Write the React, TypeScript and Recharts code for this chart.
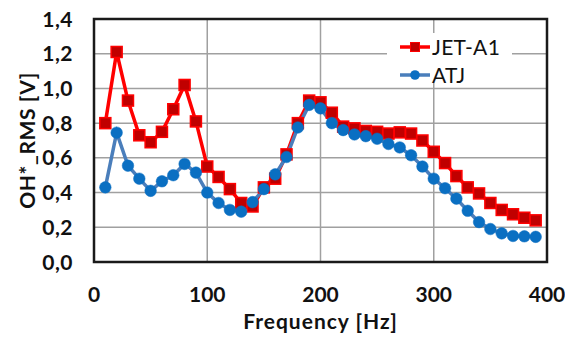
import React from 'react';
import { LineChart, Line, XAxis, YAxis, CartesianGrid, ReferenceArea, Legend } from 'recharts';

const frequency = [10, 20, 30, 40, 50, 60, 70, 80, 90, 100, 110, 120, 130, 140, 150, 160, 170, 180, 190, 200, 210, 220, 230, 240, 250, 260, 270, 280, 290, 300, 310, 320, 330, 340, 350, 360, 370, 380, 390];
const jetA1 = [0.80, 1.21, 0.93, 0.73, 0.69, 0.75, 0.88, 1.02, 0.81, 0.55, 0.49, 0.42, 0.34, 0.32, 0.43, 0.48, 0.62, 0.80, 0.93, 0.92, 0.86, 0.78, 0.77, 0.755, 0.75, 0.74, 0.747, 0.74, 0.70, 0.635, 0.57, 0.495, 0.43, 0.395, 0.34, 0.30, 0.275, 0.255, 0.24];
const atj = [0.43, 0.745, 0.555, 0.48, 0.41, 0.465, 0.50, 0.565, 0.515, 0.40, 0.34, 0.30, 0.29, 0.345, 0.42, 0.505, 0.605, 0.775, 0.905, 0.885, 0.80, 0.76, 0.735, 0.725, 0.71, 0.68, 0.66, 0.615, 0.55, 0.48, 0.425, 0.365, 0.295, 0.23, 0.19, 0.165, 0.15, 0.148, 0.145];

const xTicks = [0, 100, 200, 300, 400];
const yTicks = [0, 0.2, 0.4, 0.6, 0.8, 1.0, 1.2, 1.4];
const xMinorTicks = [20, 40, 60, 80, 100, 120, 140, 160, 180, 200, 220, 240, 260, 280, 300, 320, 340, 360, 380];
const yMinorTicks = [0.04, 0.08, 0.12, 0.16, 0.24, 0.28, 0.32, 0.36, 0.44, 0.48, 0.52, 0.56, 0.64, 0.68, 0.72, 0.76, 0.84, 0.88, 0.92, 0.96, 1.04, 1.08, 1.12, 1.16, 1.24, 1.28, 1.32, 1.36];

const seriesNames = ['JET-A1', 'ATJ'];

const data = frequency.map((f, i) => ({ f, jet: jetA1[i], atj: atj[i] }));

const FONT = "Lato, 'Liberation Sans', Arial, sans-serif";
const RED = '#ff0000';
const RED_FILL = '#c00000';
const BLUE = '#4a7ebb';
const BLUE_FILL = '#0a6fc2';

const XTick = (props: any) => {
  const { x, y, payload } = props;
  return (
    <text x={x} y={y + 40} textAnchor="middle" fontFamily={FONT} fontWeight={700} fontSize={21} fill="#111">
      {String(payload.value)}
    </text>
  );
};

const YTick = (props: any) => {
  const { x, y, payload } = props;
  return (
    <text x={x - 21} y={y + 7.5} textAnchor="end" fontFamily={FONT} fontWeight={700} fontSize={21} letterSpacing={0.5} fill="#111">
      {Number(payload.value).toFixed(1).replace('.', ',')}
    </text>
  );
};

const YTitle = (props: any) => {
  const vb = props.viewBox || { x: 0, y: 19, width: 94, height: 243 };
  const cx = vb.x + 26;
  const cy = vb.y + vb.height / 2;
  return (
    <text x={cx} y={cy} transform={`rotate(-90 ${cx} ${cy})`} textAnchor="middle" dominantBaseline="central" fontFamily={FONT} fontWeight={700} fontSize={21} letterSpacing={0.6} fill="#111">
      OH*_RMS [V]
    </text>
  );
};

const XTitle = (props: any) => {
  const vb = props.viewBox || { x: 94, y: 262, width: 453, height: 81 };
  return (
    <text x={vb.x + vb.width / 2} y={vb.y + 67} textAnchor="middle" fontFamily={FONT} fontWeight={700} fontSize={21} letterSpacing={1} fill="#111">
      Frequency [Hz]
    </text>
  );
};

const SquareDot = (props: any) => {
  const { cx, cy, index } = props;
  if (cx == null || cy == null) return <g key={`s${index}`} />;
  return <rect key={`s${index}`} x={cx - 5.5} y={cy - 5.5} width={11} height={11} fill={RED_FILL} stroke={RED} strokeWidth={1.5} />;
};

const CircleDot = (props: any) => {
  const { cx, cy, index } = props;
  if (cx == null || cy == null) return <g key={`c${index}`} />;
  return <circle key={`c${index}`} cx={cx} cy={cy} r={5.8} fill={BLUE_FILL} stroke={BLUE_FILL} strokeWidth={0.5} />;
};

const LegendContent = () => {
  const rows = [
    { name: seriesNames[0], top: 0, color: RED, marker: 'square' },
    { name: seriesNames[1], top: 28, color: BLUE, marker: 'circle' },
  ];
  return (
    <div style={{ position: 'relative', width: 125, height: 49, background: '#fff' }}>
      {rows.map((r) => (
        <div key={r.name} style={{ position: 'absolute', left: 13, top: r.top, height: 28, display: 'flex', alignItems: 'center' }}>
          <svg width={30} height={28} style={{ display: 'block' }}>
            <line x1={0} y1={14} x2={30} y2={14} stroke={r.color} strokeWidth={3.5} />
            {r.marker === 'square' ? (
              <rect x={10.5} y={9.5} width={9} height={9} fill={RED_FILL} stroke={RED} strokeWidth={1} />
            ) : (
              <circle cx={15} cy={14} r={4.8} fill={BLUE_FILL} />
            )}
          </svg>
          <span style={{ marginLeft: 2, fontFamily: FONT, fontSize: 21, lineHeight: '28px', letterSpacing: 0.3, color: '#111' }}>{r.name}</span>
        </div>
      ))}
    </div>
  );
};

export default function App() {
  return (
    <div style={{ position: 'absolute', left: 0, top: 0, width: 565, height: 343, background: '#fff' }}>
      <LineChart width={565} height={343} data={data} margin={{ top: 19, right: 18, left: 0, bottom: 0 }}>
        <CartesianGrid stroke="#a0a0a0" strokeWidth={1.5} horizontalValues={yTicks} verticalValues={xTicks} />
        <XAxis
          xAxisId="minor"
          dataKey="f"
          type="number"
          domain={[0, 400]}
          ticks={xMinorTicks}
          tick={false}
          axisLine={false}
          tickLine={{ stroke: '#777', strokeWidth: 1 }}
          tickSize={5}
          mirror
          height={0}
          allowDataOverflow
        />
        <XAxis
          dataKey="f"
          type="number"
          domain={[0, 400]}
          ticks={xTicks}
          tick={<XTick />}
          tickLine={false}
          axisLine={false}
          tickSize={0}
          tickMargin={0}
          height={81}
          interval={0}
          label={<XTitle />}
        />
        <YAxis
          yAxisId="minor"
          type="number"
          domain={[0, 1.4]}
          ticks={yMinorTicks}
          tick={false}
          axisLine={false}
          tickLine={{ stroke: '#777', strokeWidth: 1 }}
          tickSize={5}
          mirror
          width={0}
          allowDataOverflow
        />
        <YAxis
          type="number"
          domain={[0, 1.4]}
          ticks={yTicks}
          tick={<YTick />}
          tickLine={false}
          axisLine={false}
          tickSize={0}
          tickMargin={0}
          width={94}
          interval={0}
          label={<YTitle />}
        />
        <Line dataKey="jet" name={seriesNames[0]} stroke={RED} strokeWidth={3.5} dot={<SquareDot />} activeDot={false} isAnimationActive={false} />
        <Line dataKey="atj" name={seriesNames[1]} stroke={BLUE} strokeWidth={3.5} dot={<CircleDot />} activeDot={false} isAnimationActive={false} />
        <ReferenceArea x1={0} x2={400} y1={0} y2={1.4} fill="none" stroke="#1a1a1a" strokeWidth={2.5} ifOverflow="visible" />
        <Legend
          layout="vertical"
          align="center"
          verticalAlign="middle"
          content={<LegendContent />}
          wrapperStyle={{ position: 'absolute', left: 387, top: 33, width: 125, height: 49 }}
        />
      </LineChart>
    </div>
  );
}
